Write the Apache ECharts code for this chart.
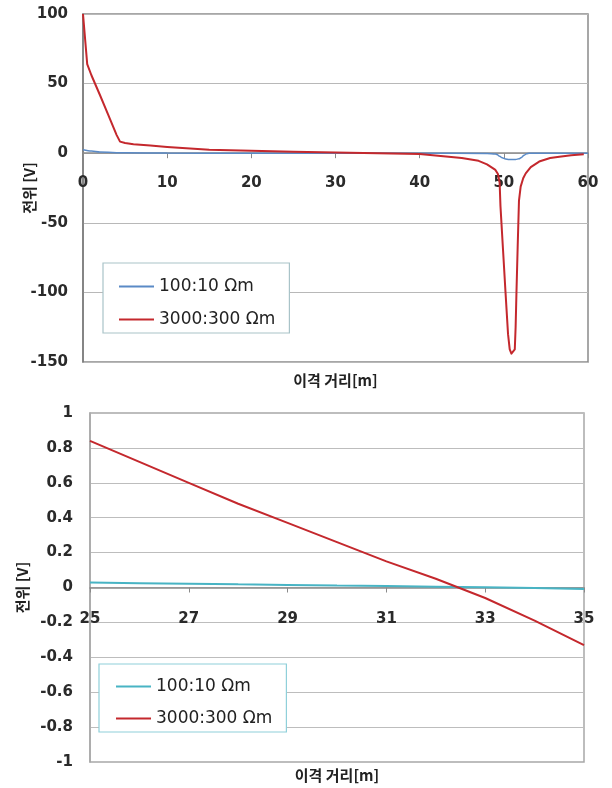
<!DOCTYPE html>
<html>
<head>
<meta charset="utf-8">
<script src="https://cdn.jsdelivr.net/npm/echarts@6/dist/echarts.min.js"></script>
<style>
  html, body { margin: 0; padding: 0; background: #fff; }
  #chart { width: 612px; height: 788px; }
</style>
</head>
<body>
<div id="chart"></div>
<script>
// top chart: 0-60 m
const topRedX = [0, 0.5, 1, 2, 3, 4, 4.4, 5, 6, 8, 10, 15, 20, 25, 30, 35, 40, 45, 47, 48, 49, 49.3, 49.5, 49.6, 49.9, 50.2, 50.5, 50.7, 50.9, 51.1, 51.3, 51.4, 51.5, 51.65, 51.8, 52, 52.3, 52.6, 53.2, 54.2, 55.5, 56.6, 58, 59.5];
const topRedY = [100, 64, 56, 42, 27.5, 13, 8.3, 7.3, 6.5, 5.5, 4.5, 2.5, 1.8, 1, 0.5, 0, -0.6, -3.5, -5.5, -8, -12, -15, -21, -38, -69, -100, -130, -141, -144, -144, -141, -125, -100, -66, -34, -24, -18, -14.5, -10, -6, -3.5, -2.5, -1.5, -0.8];
const topBlueX = [0, 1, 2, 5, 10, 20, 30, 40, 48, 49, 49.2, 49.5, 49.8, 50.2, 50.6, 51, 51.4, 51.8, 52.1, 52.4, 52.7, 53, 55, 60];
const topBlueY = [2.5, 1.5, 0.8, 0.3, 0.1, 0, 0, 0, -0.2, -0.5, -1, -2.2, -3.3, -4.1, -4.5, -4.6, -4.5, -4, -3, -1.5, -0.4, 0, 0, 0];

// bottom chart: zoom on 25-35 m
const botX = [25, 26, 27, 28, 29, 30, 31, 32, 33, 34, 35];
const botRedY = [0.84, 0.72, 0.60, 0.48, 0.37, 0.26, 0.15, 0.05, -0.06, -0.19, -0.33];
const botBlueY = [0.028, 0.025, 0.022, 0.018, 0.015, 0.011, 0.008, 0.005, 0.002, -0.003, -0.008];

const NAME_BLUE = "100:10 Ωm";
const NAME_RED = "3000:300 Ωm";

const RED = "#c4282d";
const BLUE_TOP = "#5a8ac6";
const TEAL = "#48b4c4";

const zip = (xs, ys) => xs.map((x, i) => [x, ys[i]]);

const tickFont = { fontFamily: "DejaVu Sans", fontWeight: "bold", fontSize: 15, color: "#2a2a2a" };
const nameFont = { fontFamily: "Noto Sans CJK KR", fontWeight: "bold", fontSize: 15, color: "#222" };
const noDot = { color: "rgba(0,0,0,0)", borderWidth: 0 };

const chart = echarts.init(document.getElementById("chart"));

// grids: top 14..362 (zero at 153.2), bottom 413..762 (zero at 587.5)
chart.setOption({
  animation: false,
  grid: [
    { left: 83, top: 14, width: 505, height: 348, outerBoundsMode: "none", containLabel: false, show: true, borderColor: "#8a8a8a", borderWidth: 1.5, backgroundColor: "#fff" },
    { left: 90, top: 413, width: 494, height: 349, outerBoundsMode: "none", containLabel: false, show: true, borderColor: "#a8a8a8", borderWidth: 1.5, backgroundColor: "#fff" },
  ],
  xAxis: [
    {
      gridIndex: 0, type: "value", min: 0, max: 60, interval: 10, offset: -208.8,
      name: "이격 거리[m]", nameLocation: "middle", nameGap: 220, nameMoveOverlap: false, nameTextStyle: nameFont,
      axisLine: { onZero: false, lineStyle: { color: "#8a8a8a", width: 1.5 } },
      axisTick: { show: true, length: 5, lineStyle: { color: "#8a8a8a" } },
      axisLabel: Object.assign({ margin: 22 }, tickFont),
      splitLine: { show: false },
    },
    {
      gridIndex: 1, type: "value", min: 25, max: 35, interval: 2, offset: -174.5,
      name: "이격 거리[m]", nameLocation: "middle", nameGap: 180, nameMoveOverlap: false, nameTextStyle: nameFont,
      axisLine: { onZero: false, lineStyle: { color: "#8a8a8a", width: 1.5 } },
      axisTick: { show: true, length: 5, lineStyle: { color: "#8a8a8a" } },
      axisLabel: Object.assign({ margin: 24 }, tickFont),
      splitLine: { show: false },
    },
  ],
  yAxis: [
    {
      gridIndex: 0, type: "value", min: -150, max: 100, interval: 50,
      name: "전위 [V]", nameLocation: "middle", nameRotate: 90, nameGap: 46, nameMoveOverlap: false, nameTextStyle: nameFont,
      axisLine: { show: true, onZero: false, lineStyle: { color: "#7a7a7a", width: 1.5 } },
      axisTick: { show: false },
      axisLabel: Object.assign({ margin: 15 }, tickFont),
      splitLine: { show: true, lineStyle: { color: "#b8b8b8", width: 1.2 } },
    },
    {
      gridIndex: 1, type: "value", min: -1, max: 1, interval: 0.2,
      name: "전위 [V]", nameLocation: "middle", nameRotate: 90, nameGap: 60, nameMoveOverlap: false, nameTextStyle: nameFont,
      axisLine: { show: true, onZero: false, lineStyle: { color: "#a8a8a8", width: 1.5 } },
      axisTick: { show: false },
      axisLabel: Object.assign({ margin: 17 }, tickFont),
      splitLine: { show: true, lineStyle: { color: "#bdbdbd", width: 1.2 } },
    },
  ],
  legend: [
    {
      left: 103, top: 263, orient: "vertical",
      padding: [15, 14, 5, 15], itemGap: 16, itemWidth: 35, itemHeight: 4,
      backgroundColor: "#fff", borderColor: "#a9c3c8", borderWidth: 1.2,
      textStyle: { fontFamily: "DejaVu Sans", fontSize: 17, color: "#222" },
      data: [
        { name: NAME_BLUE, lineStyle: { color: BLUE_TOP }, itemStyle: noDot },
        { name: NAME_RED, lineStyle: { color: RED }, itemStyle: noDot },
      ],
    },
    {
      left: 99, top: 664, orient: "vertical",
      padding: [14, 14, 5, 16], itemGap: 15, itemWidth: 35, itemHeight: 4,
      backgroundColor: "#fff", borderColor: "#8fd0da", borderWidth: 1.2,
      textStyle: { fontFamily: "DejaVu Sans", fontSize: 17, color: "#222" },
      data: [
        { name: NAME_BLUE, lineStyle: { color: TEAL }, itemStyle: noDot },
        { name: NAME_RED, lineStyle: { color: RED }, itemStyle: noDot },
      ],
    },
  ],
  series: [
    {
      name: NAME_BLUE, type: "line", xAxisIndex: 0, yAxisIndex: 0,
      data: zip(topBlueX, topBlueY), symbol: "none", smooth: 0.3, smoothMonotone: "x",
      lineStyle: { color: BLUE_TOP, width: 1.5 }, itemStyle: { color: BLUE_TOP },
    },
    {
      name: NAME_RED, type: "line", xAxisIndex: 0, yAxisIndex: 0,
      data: zip(topRedX, topRedY), symbol: "none",
      lineStyle: { color: RED, width: 2, join: "round" }, itemStyle: { color: RED },
    },
    {
      name: NAME_BLUE, type: "line", xAxisIndex: 1, yAxisIndex: 1,
      data: zip(botX, botBlueY), symbol: "none",
      lineStyle: { color: TEAL, width: 2 }, itemStyle: { color: TEAL },
    },
    {
      name: NAME_RED, type: "line", xAxisIndex: 1, yAxisIndex: 1,
      data: zip(botX, botRedY), symbol: "none",
      lineStyle: { color: RED, width: 2 }, itemStyle: { color: RED },
    },
  ],
});
</script>
</body>
</html>
